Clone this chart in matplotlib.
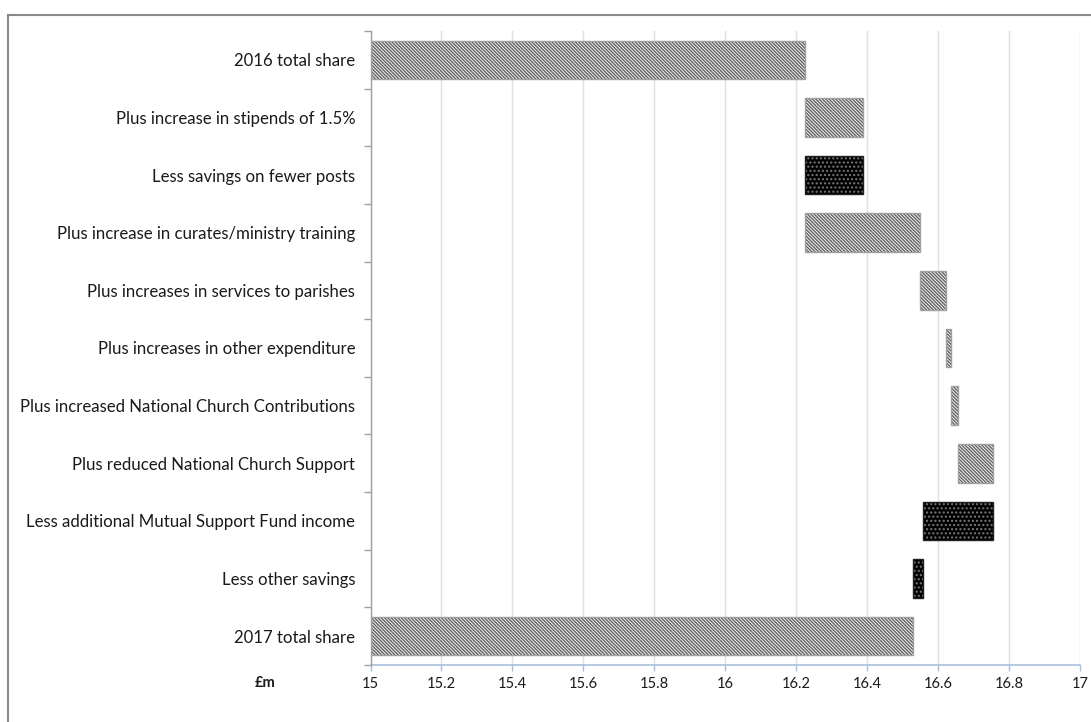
import matplotlib
matplotlib.use("Agg")
import matplotlib.pyplot as plt
from matplotlib.lines import Line2D
from matplotlib.ticker import FixedLocator

plt.rcParams['font.family'] = ['Lato', 'DejaVu Sans']
plt.rcParams['hatch.linewidth'] = 1.0

# ---- data ----
categories = [
    "2016 total share",
    "Plus increase in stipends of 1.5%",
    "Less savings on fewer posts",
    "Plus increase in curates/ministry training",
    "Plus increases in services to parishes",
    "Plus increases in other expenditure",
    "Plus increased National Church Contributions",
    "Plus reduced National Church Support",
    "Less additional Mutual Support Fund income",
    "Less other savings",
    "2017 total share",
]
start_total = 16.226
changes = [0.163, -0.163, 0.324, 0.073, 0.014, 0.019, 0.098, -0.197, -0.028]
end_total = 16.529
axis_min, axis_max = 15, 17
x_ticks = [15, 15.2, 15.4, 15.6, 15.8, 16, 16.2, 16.4, 16.6, 16.8, 17]
x_tick_labels = ["15", "15.2", "15.4", "15.6", "15.8", "16", "16.2", "16.4", "16.6", "16.8", "17"]
unit_label = "£m"

# ---- build floating bars ----
lefts, widths, kinds = [], [], []
lefts.append(axis_min); widths.append(start_total - axis_min); kinds.append("up")
level = start_total
for c in changes:
    if c >= 0:
        lefts.append(level); widths.append(c); kinds.append("up")
    else:
        lefts.append(level + c); widths.append(-c); kinds.append("down")
    level += c
lefts.append(axis_min); widths.append(end_total - axis_min); kinds.append("up")

W, H = 1091, 722
fig = plt.figure(figsize=(W / 100, H / 100), dpi=100)
ax = fig.add_axes([370.5 / W, 1 - 665 / H, (1080 - 370.5) / W, (665 - 31) / H])

diag_hatch = chr(92) * 10
dot_hatch = "." * 4

ypos = list(range(len(categories)))
bh = 0.67
for y, l, w, k in zip(ypos, lefts, widths, kinds):
    if k == "up":
        ax.barh(y, w, left=l, height=bh, color="#f4f4f4", edgecolor="#636363",
                hatch=diag_hatch, linewidth=0, zorder=3)
        ax.barh(y, w, left=l, height=bh, fill=False, edgecolor="#a0a0a0",
                linewidth=1.0, zorder=4)
    else:
        ax.barh(y, w, left=l, height=bh, color="black", edgecolor="#7a7a7a",
                hatch=dot_hatch, linewidth=0, zorder=3)
        ax.barh(y, w, left=l, height=bh, fill=False, edgecolor="#202020",
                linewidth=1.0, zorder=4)

ax.set_xlim(axis_min, axis_max)
ax.set_ylim(len(categories) - 0.5, -0.5)
ax.set_xticks(x_ticks)
ax.set_xticklabels(x_tick_labels, fontsize=10.5, color="#1a1a1a")
ax.set_yticks(ypos)
ax.set_yticklabels(categories, fontsize=12.1, color="#1a1a1a")
ax.yaxis.set_minor_locator(FixedLocator([i - 0.5 for i in range(len(categories) + 1)]))
ax.tick_params(axis="y", which="major", length=0, pad=11)
ax.tick_params(axis="y", which="minor", length=5, color="#a0a0a0", width=1)
ax.tick_params(axis="x", which="major", length=4, color="#a8bfdc", width=1, pad=5)

ax.grid(axis="x", color="#e0e0e0", linewidth=1, zorder=0)
ax.set_axisbelow(True)
for s in ["top", "right"]:
    ax.spines[s].set_visible(False)
ax.spines["left"].set_color("#a0a0a0")
ax.spines["left"].set_linewidth(1)
ax.spines["left"].set_zorder(5)
ax.spines["bottom"].set_color("#a8bfdc")
ax.spines["bottom"].set_linewidth(1.2)

fig.text(265 / W, 1 - 683 / H, unit_label, fontsize=10.5, fontweight="bold",
         ha="center", va="center", color="#1a1a1a")

# outer frame (top and left edges visible)
fig.add_artist(Line2D([8 / W, 1.0], [1 - 15 / H, 1 - 15 / H], transform=fig.transFigure,
                      color="#8a8a8a", linewidth=1.5))
fig.add_artist(Line2D([8 / W, 8 / W], [0.0, 1 - 15 / H], transform=fig.transFigure,
                      color="#8a8a8a", linewidth=1.5))

fig.savefig("out.png", dpi=100)
